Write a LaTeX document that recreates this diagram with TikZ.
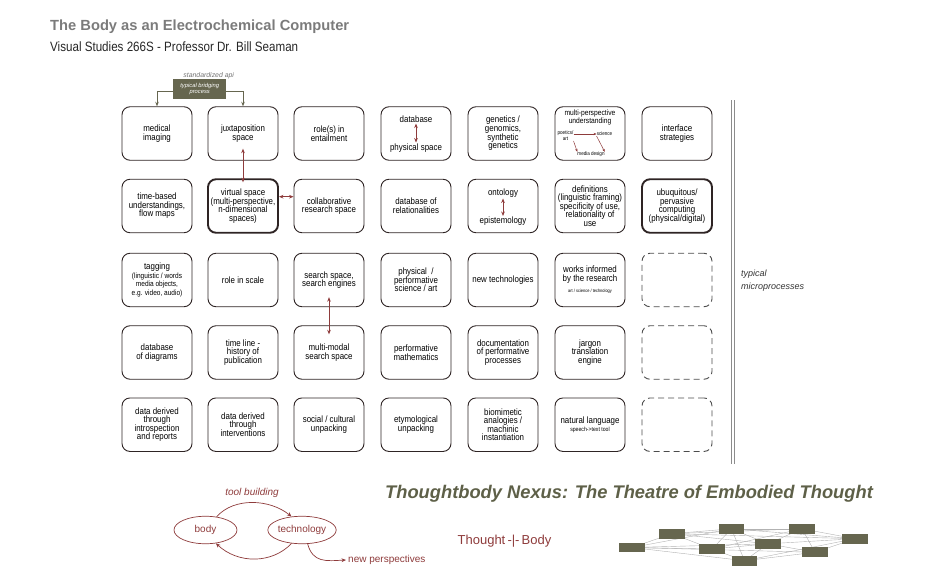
\documentclass[tikz,border=0pt]{standalone}
\usepackage{fontspec}
\setmainfont{Liberation Sans}
\newfontfamily\narrowfont[FakeStretch=0.86]{Liberation Sans}
\usetikzlibrary{arrows.meta,positioning,shapes.geometric}
\definecolor{bridgeolive}{HTML}{66664F}
\definecolor{nexusolive}{HTML}{5E6048}
\definecolor{rustred}{HTML}{8E3B3B}
\definecolor{titlegray}{HTML}{7B7B7B}
\definecolor{cellline}{HTML}{2E2424}
\tikzset{
cell/.style={draw=cellline, line width=0.9pt, rounded corners=8pt, minimum width=70pt, minimum height=53.5pt, inner sep=1pt, align=center, font=\narrowfont\fontsize{9.2}{8.6}\selectfont},
boldcell/.style={cell, line width=1.9pt},
blankcell/.style={cell, draw=black!70, dash pattern=on 6pt off 4pt},
inword/.style={inner sep=0pt, align=center, font=\narrowfont\fontsize{9.2}{8.6}\selectfont},
tinyword/.style={inner sep=0pt, align=center, font=\narrowfont\fontsize{5.3}{5.8}\selectfont},
redlink/.style={draw=rustred, line width=0.7pt, {Stealth[length=4.5pt,width=3.6pt]}-{Stealth[length=4.5pt,width=3.6pt]}},
redtip/.style={draw=rustred, line width=0.5pt, -{Stealth[length=3pt,width=2.4pt]}},
bridgearrow/.style={draw=bridgeolive, line width=0.8pt, -{Stealth[length=4.5pt,width=3.5pt]}},
loopnode/.style={ellipse, draw=rustred, line width=0.7pt, minimum width=63pt, minimum height=27.5pt, inner sep=0pt, text=rustred, font=\fontsize{10}{11}\selectfont},
looparrow/.style={draw=rustred, line width=0.7pt, -{Stealth[length=4.5pt,width=3.8pt]}},
netbox/.style={fill=bridgeolive, minimum width=25.7pt, minimum height=9.7pt, inner sep=0pt},
netline/.style={draw=black!30, line width=0.4pt},
}

\begin{document}
\begin{tikzpicture}[x=1pt,y=-1pt]
\useasboundingbox (0,0) rectangle (936,586);

% heading
\node[anchor=base west, inner sep=0, text=titlegray, font=\bfseries\fontsize{14.7}{16}\selectfont] (title) at (50,31) {The Body as an Electrochemical Computer};
\node[anchor=base west, inner sep=0, text=black!85, font=\narrowfont\fontsize{13.5}{15}\selectfont] (subtitle) at (50,52) {Visual Studies 266S - Professor Dr. Bill Seaman};

% row 1
\node[cell] at (157,133.5) (m11) {medical\\imaging};
\node[cell] at (243,133.5) (m12) {juxtaposition\\space};
\node[cell] at (329,133.5) (m13) {role(s) in\\entailment};
\node[cell] at (416,133.5) (m14) {};
\node[cell] at (503,133.5) (m15) {genetics /\\genomics,\\synthetic\\genetics};
\node[cell] at (590,133.5) (m16) {};
\node[cell] at (677,133.5) (m17) {interface\\strategies};

% row 2
\node[cell] at (157,206) (m21) {time-based\\understandings,\\flow maps};
\node[boldcell] at (243,206) (m22) {virtual space\\(multi-perspective,\\n-dimensional\\spaces)};
\node[cell] at (329,206) (m23) {collaborative\\research space};
\node[cell] at (416,206) (m24) {database of\\relationalities};
\node[cell] at (503,206) (m25) {};
\node[cell] at (590,206) (m26) {definitions\\(linguistic framing)\\specificity of use,\\relationality of\\use};
\node[boldcell] at (677,206) (m27) {ubuquitous/\\pervasive\\computing\\(physical/digital)};

% row 3
\node[cell] at (157,280) (m31) {tagging\\{\fontsize{7.6}{8.2}\selectfont(linguistic / words}\\{\fontsize{7.6}{8.2}\selectfont media objects,}\\{\fontsize{7.6}{8.2}\selectfont e.g. video, audio)}};
\node[cell] at (243,280) (m32) {role in scale};
\node[cell] at (329,280) (m33) {search space,\\search engines};
\node[cell] at (416,280) (m34) {physical~~/\\performative\\science / art};
\node[cell] at (503,280) (m35) {new technologies};
\node[cell] at (590,280) (m36) {works informed\\by the research\\[3pt]{\fontsize{4.6}{5}\selectfont art / science / technology}};
\node[blankcell] at (677,280) (m37) {};

% row 4
\node[cell] at (157,352.5) (m41) {database\\of diagrams};
\node[cell] at (243,352.5) (m42) {time line -\\history of\\publication};
\node[cell] at (329,352.5) (m43) {multi-modal\\search space};
\node[cell] at (416,352.5) (m44) {performative\\mathematics};
\node[cell] at (503,352.5) (m45) {documentation\\of performative\\processes};
\node[cell] at (590,352.5) (m46) {jargon\\translation\\engine};
\node[blankcell] at (677,352.5) (m47) {};

% row 5
\node[cell] at (157,424.7) (m51) {data derived\\through\\introspection\\and reports};
\node[cell] at (243,424.7) (m52) {data derived\\through\\interventions};
\node[cell] at (329,424.7) (m53) {social / cultural\\unpacking};
\node[cell] at (416,424.7) (m54) {etymological\\unpacking};
\node[cell] at (503,424.7) (m55) {biomimetic\\analogies /\\machinic\\instantiation};
\node[cell] at (590,424.7) (m56) {natural language\\{\fontsize{6}{6.5}\selectfont speech->text tool}};
\node[blankcell] at (677,424.7) (m57) {};

% inner pairs
\node[inword] at (416,119) (dbword) {database};
\node[inword] at (416,148) (physpace) {physical space};
\draw[redlink] ([yshift=-1pt]dbword.south) -- ([yshift=1pt]physpace.north);
\node[inword] at (503,193) (ontol) {ontology};
\node[inword] at (503,221.5) (epist) {epistemology};
\draw[redlink] ([yshift=-1pt]ontol.south) -- ([yshift=1pt]epist.north);
\node[inword, font=\narrowfont\fontsize{7.8}{8.8}\selectfont] at (590,117.5) (multip) {multi-perspective\\understanding};
\node[tinyword] at (565.5,136) (poet) {poetics/\\art};
\node[tinyword] at (604.5,134) (sci) {science};
\node[tinyword] at (591,154.5) (media) {media design};
\draw[redtip] (poet.east |- sci) -- (sci.west);
\draw[redtip] (poet.south east) -- (media.north west);
\draw[redtip] (sci.south west) -- (media.north east);

% bridging process
\node[inner sep=0, text=black!55, font=\itshape\fontsize{6.9}{8}\selectfont] at (208.7,75.5) (api) {standardized api};
\node[fill=bridgeolive, minimum width=52.7pt, minimum height=20.3pt, inner sep=0, align=center, text=white, font=\itshape\fontsize{5.8}{6.4}\selectfont] at (199.7,89.2) (bridge) {typical bridging\\process};
\draw[bridgearrow] ([yshift=-2.5pt]bridge.west) -| (m11.north);
\draw[bridgearrow] ([yshift=-2.5pt]bridge.east) -| (m12.north);

% red links between cells
\draw[redlink] ([yshift=12pt]m12.south) -- ([yshift=-4pt]m22.north);
\draw[redlink] ([yshift=9.3pt]m22.east) -- ([yshift=9.3pt]m23.west);
\draw[redlink] ([yshift=10pt]m33.south) -- ([yshift=-9pt]m43.north);

% divider and side note
\draw[black!45, line width=0.7pt] (731,100) -- (731,464);
\draw[black!45, line width=0.7pt] (734.5,100) -- (734.5,464);
\node[anchor=west, inner sep=0, align=left, text=black!80, font=\itshape\fontsize{9}{12.4}\selectfont] at (741,280.5) (micro) {typical\\microprocesses};

% tool building loop
\node[loopnode] at (205.5,530) (body) {body};
\node[loopnode] at (302,530) (tech) {technology};
\node[inner sep=0, text=rustred, font=\itshape\fontsize{10}{11}\selectfont] at (252,492.5) (toolb) {tool building};
\node[anchor=west, inner sep=0, text=rustred, font=\fontsize{10}{11}\selectfont] at (348,560) (newp) {new perspectives};
\draw[looparrow] (body.50) .. controls (234,497) and (270,499) .. (tech.128);
\draw[looparrow] (tech.232) .. controls (272,564) and (238,564) .. (body.-52);
\draw[looparrow] (tech.292) .. controls (313,563) and (326,561) .. ([xshift=-2pt]newp.west);

% nexus
\node[anchor=base, inner sep=0, text=nexusolive, font=\bfseries\itshape\fontsize{18.3}{20}\selectfont] at (629,498.3) (nexus) {Thoughtbody Nexus: The Theatre of Embodied Thought};
\node[anchor=base, inner sep=0, text=rustred, font=\fontsize{13}{14}\selectfont] at (504.5,544) (tb) {Thought\,-\textbar-\,Body};

% network
\coordinate (n1) at (632,547.5);
\coordinate (n2) at (672,533.7);
\coordinate (n3) at (731.5,528.8);
\coordinate (n4) at (802,528.8);
\coordinate (n5) at (855,538.7);
\coordinate (n6) at (712,549);
\coordinate (n7) at (768,543.8);
\coordinate (n8) at (815,552.3);
\coordinate (n9) at (744.5,560.7);
\foreach \a/\b in {1/2,1/3,1/6,1/7,1/9,1/8,2/3,2/4,2/6,2/7,2/5,3/4,3/6,3/7,3/9,3/5,4/5,4/7,4/8,4/6,5/7,5/8,5/9,6/7,6/9,7/8,7/9,8/9}
  \draw[netline] (n\a) -- (n\b);
\foreach \n in {1,...,9}
  \node[netbox] at (n\n) (nb\n) {};
\end{tikzpicture}
\end{document}
